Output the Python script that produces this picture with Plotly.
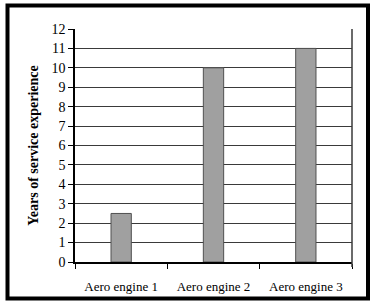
import plotly.graph_objects as go

categories = ["Aero engine 1", "Aero engine 2", "Aero engine 3"]
years = [2.5, 10, 11]
y_ticks = list(range(0, 13))

W, H = 372, 303
L, R, T, B = 75, 20, 29, 41
pw, ph = W - L - R, H - T - B

def px(x):
    return (x - L) / pw

def py(y):
    return (H - B - y) / ph

fig = go.Figure(go.Bar(
    x=categories, y=years, width=0.22,
    marker=dict(color="#a0a0a0", line=dict(color="#505050", width=1)),
))

font = "Liberation Serif, Times New Roman, serif"
fig.update_layout(
    width=W, height=H,
    margin=dict(l=L, r=R, t=T, b=B, pad=0, autoexpand=False),
    paper_bgcolor="white", plot_bgcolor="white",
    showlegend=False,
    font=dict(family=font, size=13, color="black"),
    shapes=[dict(type="rect", xref="paper", yref="paper",
                 x0=px(7.5), x1=px(368), y0=py(298.5), y1=py(5.5),
                 line=dict(color="black", width=4), layer="above")],
)
fig.update_xaxes(
    type="category", tickson="boundaries", ticks="outside", ticklen=5,
    tickcolor="black", tickwidth=1, showline=True, linecolor="black",
    linewidth=1.5, showgrid=False, ticklabelstandoff=12, automargin=False,
    tickfont=dict(family=font, size=13, color="black"),
)
fig.update_yaxes(
    range=[0, 12], tickvals=y_ticks, ticks="outside", ticklen=5,
    tickcolor="black", tickwidth=1, showline=True, linecolor="black",
    linewidth=1.5, mirror=False, showgrid=True, gridcolor="#3a3a3a",
    gridwidth=1, zeroline=False, automargin=False,
    tickfont=dict(family=font, size=14, color="black"),
    title=dict(text="<b>Years of service experience</b>", standoff=10,
               font=dict(family=font, size=14, color="black")),
)
# right-hand plot border
fig.add_shape(type="line", xref="paper", yref="paper", x0=1, x1=1,
              y0=py(267), y1=1, line=dict(color="#3a3a3a", width=1.5))

fig.write_html("out.html", config={"displayModeBar": False},
               post_script="document.body.style.margin='0';document.body.style.overflow='hidden';")
